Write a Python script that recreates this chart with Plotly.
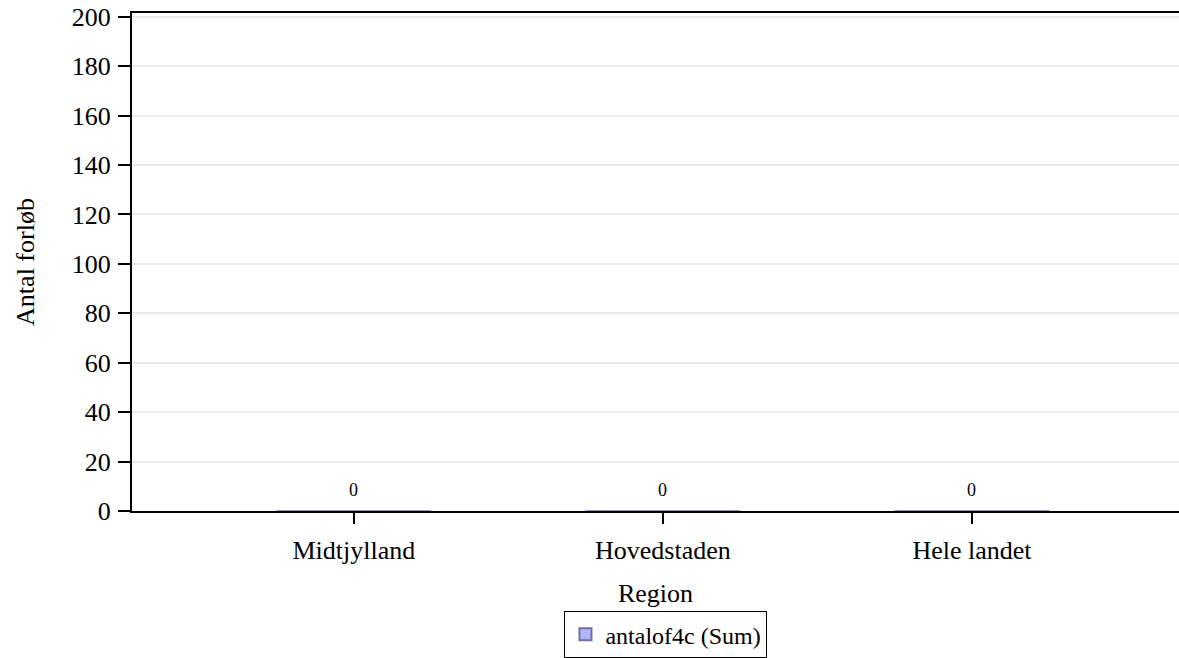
import plotly.graph_objects as go

categories = ["Midtjylland", "Hovedstaden", "Hele landet"]
values = [0, 0, 0]
series_name = "antalof4c (Sum)"
y_ticks = [0, 20, 40, 60, 80, 100, 120, 140, 160, 180, 200]

FONT = "Liberation Serif"

fig = go.Figure()
fig.add_trace(go.Bar(
    x=categories, y=values, name=series_name,
    width=0.5,
    marker=dict(color="#b4b4fa", line=dict(color="#7070a0", width=1)),
    showlegend=True,
))

for c, v in zip(categories, values):
    fig.add_annotation(x=c, y=v, text=str(v), showarrow=False,
                       yshift=21, font=dict(family=FONT, size=18, color="black"))

fig.update_layout(
    width=1179, height=658,
    margin=dict(l=132, r=0, t=13, b=147, autoexpand=False),
    paper_bgcolor="white", plot_bgcolor="white",
    font=dict(family=FONT, size=26, color="black"),
    showlegend=True,
    legend=dict(
        x=0.51, xanchor="center", y=-0.2955, yanchor="bottom",
        orientation="h",
        bordercolor="black", borderwidth=1,
        font=dict(family=FONT, size=24, color="black"),
        itemsizing="constant",
        tracegroupgap=0, indentation=0,
    ),
    xaxis=dict(
        range=[-0.718, 2.670],
        automargin=False,
        showline=True, linecolor="black", linewidth=2, mirror=True,
        ticks="outside", ticklen=11, tickwidth=2, tickcolor="black",
        ticklabelstandoff=4,
        showgrid=False,
        title=dict(text="Region", font=dict(family=FONT, size=26), standoff=20),
        tickfont=dict(family=FONT, size=26),
    ),
    yaxis=dict(
        range=[0, 201.5],
        automargin=False,
        tickvals=y_ticks,
        showline=True, linecolor="black", linewidth=2, mirror=False,
        ticks="outside", ticklen=12, tickwidth=2, tickcolor="black",
        ticklabelstandoff=2,
        showgrid=True, gridcolor="#ebebeb", gridwidth=2,
        zeroline=False,
        title=dict(text="Antal forløb", font=dict(family=FONT, size=26), standoff=30),
        tickfont=dict(family=FONT, size=26),
    ),
)

fig.write_html(
    "out.html",
    config={"displayModeBar": False},
    post_script="document.body.style.margin='0';document.body.style.overflow='hidden';",
)
